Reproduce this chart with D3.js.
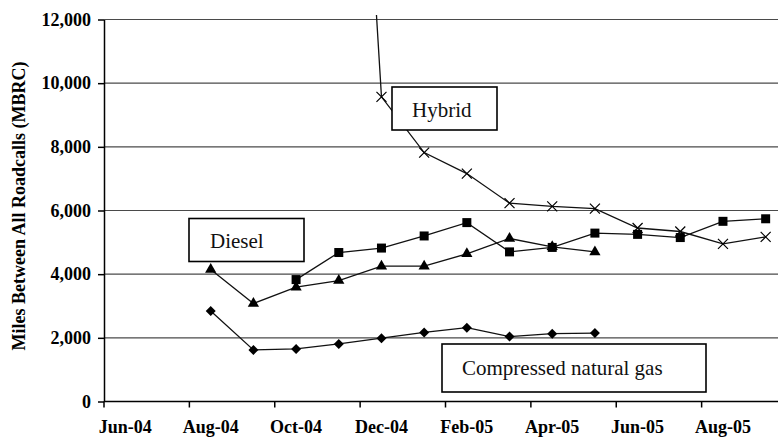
<!DOCTYPE html>
<html lang="en">
  <head>
    <meta charset="utf-8">
    <title>MBRC by fuel type</title>
    <script type="text/javascript" src="https://cdn.jsdelivr.net/npm/d3@7"></script>
    <style>
      body { margin: 0; background: #fff; }
      text { font-family: "Liberation Serif", "Times New Roman", serif; }
    </style>
  </head>
  <body>
    <script type="text/javascript">

      var w = 778;
      var h = 438;

      // months on the category axis
      var months = ["Jun-04", "Jul-04", "Aug-04", "Sep-04", "Oct-04", "Nov-04", "Dec-04", "Jan-05",
                    "Feb-05", "Mar-05", "Apr-05", "May-05", "Jun-05", "Jul-05", "Aug-05", "Sep-05"];
      var monthLabels = ["Jun-04", "Aug-04", "Oct-04", "Dec-04", "Feb-05", "Apr-05", "Jun-05", "Aug-05"];
      var yTicks = [0, 2000, 4000, 6000, 8000, 10000, 12000];

      // series values, one per month (null = no value)
      var dieselValues = [null, null, 4150, 3080, 3590, 3800, 4250, 4250, 4640, 5120, 4860, 4700, null, null, null, null];
      var squareValues = [null, null, null, null, 3830, 4680, 4820, 5200, 5620, 4700, 4840, 5290, 5250, 5150, 5660, 5740];
      var hybridValues = [null, null, null, null, null, 31500, 9570, 7820, 7160, 6230, 6130, 6060, 5450, 5340, 4950, 5170];
      var cngValues = [null, null, 2840, 1620, 1650, 1810, 1990, 2170, 2320, 2040, 2130, 2150, null, null, null, null];

      var xScale = d3.scaleBand()
                     .domain(months)
                     .range([104, 787])
                     .padding(0);

      var yScale = d3.scaleLinear()
                     .domain([0, 12000])
                     .range([401.5, 19.5]);

      var cx = function(m) { return xScale(m) + xScale.bandwidth() / 2; };

      var svg = d3.select("body")
                  .append("svg")
                  .attr("width", w)
                  .attr("height", h);

      svg.append("defs").append("clipPath")
         .attr("id", "plot")
         .append("rect")
         .attr("x", 104).attr("y", 15)
         .attr("width", 700).attr("height", 390);

      // gridlines
      svg.selectAll("line.grid")
         .data(yTicks.filter(function(d) { return d > 0; }))
         .enter()
         .append("line")
         .attr("class", "grid")
         .attr("x1", 104)
         .attr("x2", 787)
         .attr("y1", function(d) { return yScale(d); })
         .attr("y2", function(d) { return yScale(d); })
         .attr("stroke", "#4a4a4a")
         .attr("stroke-width", 1.2);

      // y axis
      var yAxis = svg.append("g")
                     .attr("transform", "translate(104,0)")
                     .call(d3.axisLeft(yScale)
                             .tickValues(yTicks)
                             .tickFormat(d3.format(","))
                             .tickSize(6)
                             .tickSizeOuter(0));
      yAxis.select(".domain").attr("stroke", "#000").attr("stroke-width", 1.5);
      yAxis.selectAll(".tick line").attr("stroke", "#000").attr("stroke-width", 1.5);
      yAxis.selectAll(".tick text")
           .attr("x", -13)
           .attr("font-family", "Liberation Serif, serif")
           .attr("font-weight", "bold")
           .attr("font-size", "18px")
           .attr("fill", "#000");

      // x axis line and tick marks at every other month boundary
      svg.append("line")
         .attr("x1", 104).attr("x2", 787)
         .attr("y1", yScale(0)).attr("y2", yScale(0))
         .attr("stroke", "#000").attr("stroke-width", 1.5);

      svg.selectAll("line.xtick")
         .data(monthLabels)
         .enter()
         .append("line")
         .attr("class", "xtick")
         .attr("x1", function(d) { return xScale(d); })
         .attr("x2", function(d) { return xScale(d); })
         .attr("y1", yScale(0))
         .attr("y2", yScale(0) + 6)
         .attr("stroke", "#000").attr("stroke-width", 1.5);

      svg.selectAll("text.xlabel")
         .data(monthLabels)
         .enter()
         .append("text")
         .attr("class", "xlabel")
         .attr("x", function(d) { return cx(d); })
         .attr("y", 433)
         .attr("text-anchor", "middle")
         .attr("font-weight", "bold")
         .attr("font-size", "18px")
         .text(function(d) { return d; });

      // y axis title
      svg.append("text")
         .attr("transform", "translate(25,206) rotate(-90)")
         .attr("text-anchor", "middle")
         .attr("font-weight", "bold")
         .attr("font-size", "18px")
         .text("Miles Between All Roadcalls (MBRC)");

      // lines
      var plot = svg.append("g").attr("clip-path", "url(#plot)");

      var series = [dieselValues, squareValues, hybridValues, cngValues];

      series.forEach(function(vals) {
        var pts = months.map(function(m, i) { return { m: m, v: vals[i] }; });
        var line = d3.line()
                     .defined(function(d) { return d.v !== null; })
                     .x(function(d) { return cx(d.m); })
                     .y(function(d) { return yScale(d.v); });
        plot.append("path")
            .datum(pts)
            .attr("d", line)
            .attr("fill", "none")
            .attr("stroke", "#111")
            .attr("stroke-width", 1.3);
      });

      var points = function(vals) {
        return months.map(function(m, i) { return { m: m, v: vals[i] }; })
                     .filter(function(d) { return d.v !== null; });
      };

      // triangles
      plot.selectAll("path.tri")
          .data(points(dieselValues))
          .enter()
          .append("path")
          .attr("class", "tri")
          .attr("d", d3.symbol().type(d3.symbolTriangle).size(55))
          .attr("transform", function(d) { return "translate(" + cx(d.m) + "," + yScale(d.v) + ")"; })
          .attr("fill", "#000");

      // squares
      plot.selectAll("rect.sq")
          .data(points(squareValues))
          .enter()
          .append("rect")
          .attr("class", "sq")
          .attr("x", function(d) { return cx(d.m) - 4.5; })
          .attr("y", function(d) { return yScale(d.v) - 4.5; })
          .attr("width", 9)
          .attr("height", 9)
          .attr("fill", "#000");

      // crosses
      plot.selectAll("path.cross")
          .data(points(hybridValues))
          .enter()
          .append("path")
          .attr("class", "cross")
          .attr("d", "M-5,-5L5,5M-5,5L5,-5")
          .attr("transform", function(d) { return "translate(" + cx(d.m) + "," + yScale(d.v) + ")"; })
          .attr("stroke", "#000")
          .attr("stroke-width", 1.2)
          .attr("fill", "none");

      // diamonds
      plot.selectAll("path.dia")
          .data(points(cngValues))
          .enter()
          .append("path")
          .attr("class", "dia")
          .attr("d", "M0,-5L5,0L0,5L-5,0Z")
          .attr("transform", function(d) { return "translate(" + cx(d.m) + "," + yScale(d.v) + ")"; })
          .attr("fill", "#000");

      // label boxes
      var boxes = [
        { text: "Hybrid", x: 392, y: 87, w: 105, h: 43, tx: 412, ty: 117 },
        { text: "Diesel", x: 189, y: 218.5, w: 115, h: 43, tx: 210, ty: 248 },
        { text: "Compressed natural gas", x: 442, y: 344, w: 264, h: 48, tx: 462, ty: 375 }
      ];

      var box = svg.selectAll("g.box")
                   .data(boxes)
                   .enter()
                   .append("g")
                   .attr("class", "box");
      box.append("rect")
         .attr("x", function(d) { return d.x; })
         .attr("y", function(d) { return d.y; })
         .attr("width", function(d) { return d.w; })
         .attr("height", function(d) { return d.h; })
         .attr("fill", "#fff")
         .attr("stroke", "#000")
         .attr("stroke-width", 1.6);
      box.append("text")
         .attr("x", function(d) { return d.tx; })
         .attr("y", function(d) { return d.ty; })
         .attr("font-size", "21px")
         .attr("fill", "#111")
         .text(function(d) { return d.text; });

    </script>
  </body>
</html>
